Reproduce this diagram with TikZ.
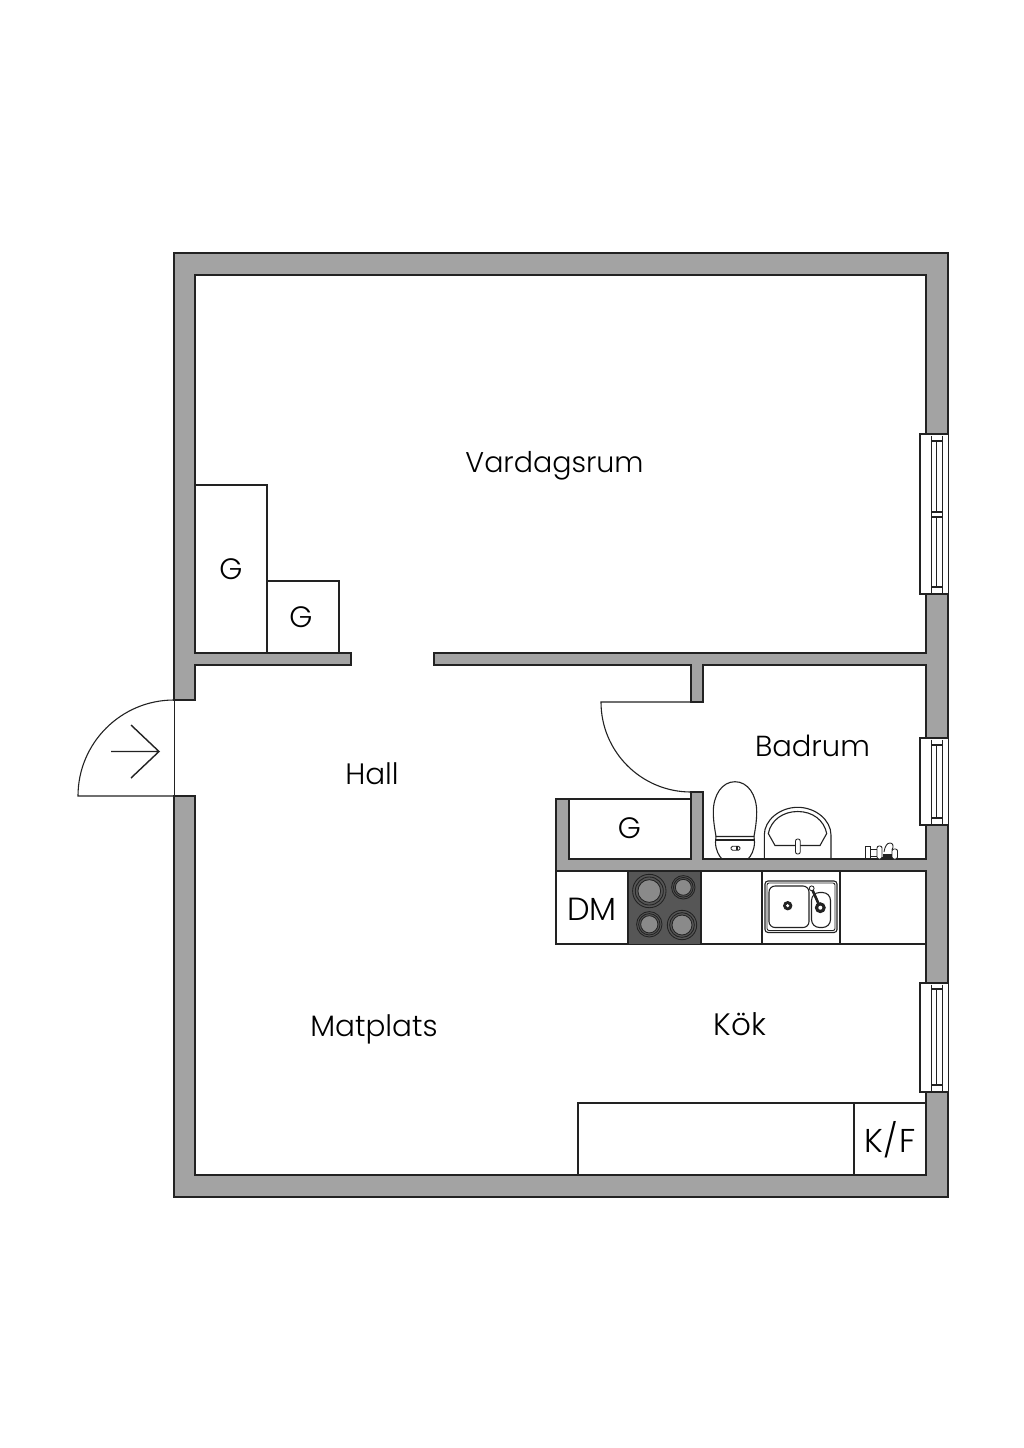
\documentclass[tikz,border=0pt]{standalone}
\usepackage{fontspec}
\newfontfamily\lbl{Poppins Light}
\definecolor{wallgray}{HTML}{A3A3A3}
\definecolor{ink}{HTML}{222222}
\definecolor{hob}{HTML}{565656}
\definecolor{plate}{HTML}{8A8A8A}
\tikzset{
  wall/.style={fill=wallgray,draw=ink,line width=1.25pt,line join=miter},
  fine/.style={draw=ink,line width=1.1pt},
  hair/.style={draw=ink,line width=0.85pt},
  roomlabel/.style={font=\lbl\fontsize{29.5}{32}\selectfont,text=black,inner sep=0pt,anchor=center},
  smalllabel/.style={font=\lbl\fontsize{29.5}{32}\selectfont,text=black,inner sep=0pt,anchor=center}
}
% window: top of recess, bottom of recess
\newcommand{\winframe}[2]{%
  \draw[fine] (926,#1) -- (920,#1) -- (920,#2) -- (926,#2);
  \draw[hair] (948,#1) -- (948,#2);
  \draw[fine] (931.5,#1+1.5) -- (931.5,#2-1.5) (942.5,#1+1.5) -- (942.5,#2-1.5);
}
\newcommand{\sash}[2]{%
  \draw[fine] (931.5,#1) -- (942.5,#1) (931.5,#2) -- (942.5,#2);
  \draw[fine] (936.7,#1) -- (936.7,#2);
}
\newcommand{\ring}[3]{% x y r
  \fill[hob] (#1,#2) circle[radius=#3 pt];
  \draw[hair] (#1,#2) circle[radius=#3 pt];
  \draw[hair] (#1,#2) circle[radius=#3*0.84 pt];
  \draw[hair,fill=plate] (#1,#2) circle[radius=#3*0.68 pt];
}
\begin{document}
\begin{tikzpicture}[x=1pt,y=-1pt]
\useasboundingbox (0,0) rectangle (1024,1448);
\fill[white] (0,0) rectangle (1024,1448);

% fixtures under walls
\draw[fine] (195,485) -- (267,485) -- (267,653);
\draw[fine] (267,581) -- (339,581) -- (339,653);
\draw[fine] (569,799) -- (691,799);
\draw[fine,fill=white] (556,871) rectangle (926,944);
\fill[hob] (628,871) rectangle (701,944);
\draw[fine] (628,871) -- (628,944) (701,871) -- (701,944) (762,871) -- (762,944) (840,871) -- (840,944);
\draw[fine] (926,1103) -- (578,1103) -- (578,1175);
\draw[fine] (854,1103) -- (854,1175);

% walls
\draw[wall] (174,700) -- (174,253) -- (948,253) -- (948,434) -- (926,434) -- (926,275) -- (195,275) -- (195,653) -- (351,653) -- (351,665) -- (195,665) -- (195,700) -- cycle;
\draw[wall] (926,594) -- (948,594) -- (948,738) -- (926,738) -- (926,665) -- (703,665) -- (703,702) -- (691,702) -- (691,665) -- (434,665) -- (434,653) -- (926,653) -- cycle;
\draw[wall] (926,825) -- (948,825) -- (948,983) -- (926,983) -- (926,871) -- (556,871) -- (556,799) -- (569,799) -- (569,859) -- (691,859) -- (691,792) -- (703,792) -- (703,859) -- (926,859) -- cycle;
\draw[wall] (926,1092) -- (948,1092) -- (948,1197) -- (174,1197) -- (174,796) -- (195,796) -- (195,1175) -- (926,1175) -- cycle;

% entrance door
\draw[hair] (174,700) -- (174,796);
\draw[fine] (174,700) .. controls (121,700) and (78,743) .. (78,796) -- (174,796);
\draw[draw=ink,line width=1.4pt] (111,751.5) -- (159,751.5) (131,725) -- (159,751.5) -- (131,778);

% bathroom door
\draw[fine] (691,702) -- (601,702) .. controls (601,751.7) and (641.3,792) .. (691,792);

% windows
\winframe{434}{594}
\sash{441}{512}
\sash{517}{587}
\winframe{738}{825}
\sash{745}{818}
\winframe{983}{1092}
\sash{989}{1085}

% hob
\ring{649.3}{891}{16.7}
\ring{683.3}{887.3}{11.7}
\ring{649.3}{924.3}{12.7}
\ring{682}{925}{14.7}

% kitchen sink
\draw[fine,rounded corners=3pt] (765,881) rectangle (837,932.5);
\draw[hair,rounded corners=2pt] (767,883) rectangle (835,930.5);
\draw[fine,rounded corners=6pt] (769,886) rectangle (809,927.5);
\draw[fine,rounded corners=8pt] (811.5,892.5) rectangle (830.5,927.5);
\fill[ink] (787.7,905.7) circle[radius=4.7pt];
\fill[white] (787.7,905.7) circle[radius=1.7pt];
\draw[draw=ink,line width=2.6pt] (812,889) -- (820.3,907.7);
\fill[ink] (820.3,907.7) circle[radius=5.5pt];
\fill[white] (820.3,907.7) circle[radius=2pt];
\draw[hair,fill=white] (811.7,888.3) circle[radius=2.4pt];

% toilet
\draw[fine] (735,781.7) .. controls (722,781.7) and (713.3,795) .. (713.3,812) .. controls (713.3,822) and (715,830) .. (716,836.5) -- (754,836.5) .. controls (755,830) and (756.7,822) .. (756.7,812) .. controls (756.7,795) and (748,781.7) .. (735,781.7) -- cycle;
\draw[fine] (715.5,840) -- (754.5,840);
\draw[fine] (716,836.5) -- (715.5,842) .. controls (715.5,850) and (719,856) .. (722,859);
\draw[fine] (754,836.5) -- (754.5,842) .. controls (754.5,850) and (751,856) .. (748,859);
\draw[hair,rounded corners=1.5pt] (731,846.3) rectangle (740,850.3);
\fill[ink] (735.5,846.3) rectangle (737.5,850.3);

% washbasin
\draw[fine] (764.3,859) -- (764.3,835) .. controls (764.3,820) and (780,807.3) .. (797.7,807.3) .. controls (815.4,807.3) and (831,820) .. (831,835) -- (831,859);
\draw[fine] (768.3,833.5) .. controls (771,820) and (783,811.5) .. (797.7,811.5) .. controls (812.4,811.5) and (824,820) .. (826.7,833.5) -- (820,845.5) -- (775,845.5) -- cycle;
\draw[hair,fill=white,rounded corners=2pt] (795.5,839) rectangle (800.2,854);

% taps on the shelf
\draw[hair] (865.5,846.5) rectangle (870,858.5);
\draw[hair] (870,849) rectangle (877,856);
\draw[hair,fill=white,rounded corners=2pt] (877,846) rectangle (882,859);
\draw[hair] (882,857) -- (893,857);
\draw[hair,fill=white] (884,852) .. controls (885,846) and (887,843) .. (890,843) .. controls (893,843) and (894,846) .. (892,850);
\draw[hair,fill=white,rounded corners=2pt] (892,849) rectangle (897.5,859);
\fill[ink] (883,854) rectangle (892,857);

% labels
\node[roomlabel,font=\lbl\fontsize{28.5}{32}\selectfont] (vardagsrum) at (554.5,466) {Vardagsrum};
\node[roomlabel] (hall) at (372,774) {Hall};
\node[roomlabel,font=\lbl\fontsize{29}{32}\selectfont] (badrum) at (812.5,746) {Badrum};
\node[roomlabel] (matplats) at (374,1029) {Matplats};
\node[roomlabel,font=\lbl\fontsize{31}{32}\selectfont] (kok) at (740,1024.5) {Kök};
\node[smalllabel] (g1) at (231,569) {G};
\node[smalllabel] (g2) at (301,617) {G};
\node[smalllabel] (g3) at (629.5,828) {G};
\node[smalllabel,font=\lbl\fontsize{32}{32}\selectfont] (dm) at (592,909.5) {DM};
\node[smalllabel,font=\lbl\fontsize{33}{34}\selectfont] (kf) at (890,1140) {K\kern1pt/\kern1pt F};
\end{tikzpicture}
\end{document}
